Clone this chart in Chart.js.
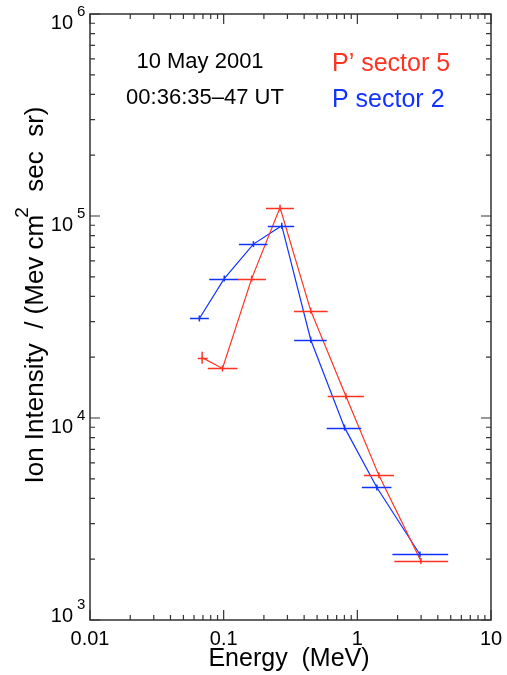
<!DOCTYPE html>
<html>
<head>
<meta charset="utf-8">
<script src="https://cdn.jsdelivr.net/npm/chart.js@4.4.1/dist/chart.umd.min.js"></script>
<style>
  body { margin: 0; background: #fff; }
  #wrap { width: 507px; height: 675px; }
</style>
</head>
<body>
<div id="wrap"><canvas id="ionChart" width="507" height="675"></canvas></div>
<script>
// Values (energy in MeV, intensity per Mev cm^2 sec sr)
const energyRed = [0.069, 0.098, 0.162, 0.264, 0.448, 0.822, 1.45, 2.99];
const intensityRed = [19900, 17600, 49000, 110000, 34000, 12800, 5200, 1960];
const lowRed = [0.064, 0.076, 0.128, 0.207, 0.335, 0.60, 1.12, 1.89];
const highRed = [0.076, 0.127, 0.207, 0.335, 0.60, 1.12, 1.88, 4.78];

const energyBlue = [0.0658, 0.101, 0.167, 0.272, 0.448, 0.803, 1.40, 2.94];
const intensityBlue = [31100, 49000, 72600, 89600, 24400, 8960, 4530, 2110];
const lowBlue = [0.056, 0.078, 0.130, 0.214, 0.337, 0.59, 1.08, 1.83];
const highBlue = [0.0775, 0.130, 0.213, 0.337, 0.59, 1.07, 1.80, 4.78];

const xTickValues = [0.01, 0.1, 1, 10];
const xTickLabels = ["0.01", "0.1", "1", "10"];
const yTickExponents = [3, 4, 5, 6];

const RED = "#ff3322";
const BLUE = "#1133ff";
const FONT = "'Liberation Sans', Arial, Helvetica, sans-serif";

const toPoints = (xs, ys) => xs.map((x, i) => ({ x: x, y: ys[i] }));

// horizontal energy-bin bars
const errorBars = {
  id: "errorBars",
  afterDatasetsDraw(chart) {
    const { ctx, scales } = chart;
    const sets = [
      [lowBlue, highBlue, intensityBlue, BLUE],
      [lowRed, highRed, intensityRed, RED],
    ];
    ctx.save();
    ctx.lineWidth = 1.5;
    sets.forEach(([lo, hi, ys, color]) => {
      ctx.strokeStyle = color;
      ys.forEach((v, i) => {
        const py = Math.round(scales.y.getPixelForValue(v)) + 0.5;
        ctx.beginPath();
        ctx.moveTo(scales.x.getPixelForValue(lo[i]), py);
        ctx.lineTo(scales.x.getPixelForValue(hi[i]), py);
        ctx.stroke();
      });
    });
    ctx.restore();
  },
};

// IDL-like box with inward ticks, labels and annotations
const frame = {
  id: "frame",
  afterDraw(chart) {
    const { ctx, chartArea: a, scales } = chart;
    const xs = scales.x, ys = scales.y;
    ctx.save();
    ctx.strokeStyle = "#333";
    ctx.lineWidth = 1.5;
    ctx.strokeRect(a.left, a.top, a.right - a.left, a.bottom - a.top);
    ctx.lineWidth = 1.2;
    ctx.beginPath();
    for (let d = -2; d <= 1; d++) {
      for (let k = 1; k <= 9; k++) {
        const v = k * Math.pow(10, d);
        if (v < 0.01 || v > 10) continue;
        const px = xs.getPixelForValue(v);
        const len = k === 1 ? 10 : 5;
        ctx.moveTo(px, a.bottom); ctx.lineTo(px, a.bottom - len);
        ctx.moveTo(px, a.top); ctx.lineTo(px, a.top + len);
      }
    }
    for (let d = 3; d <= 6; d++) {
      for (let k = 1; k <= 9; k++) {
        const v = k * Math.pow(10, d);
        if (v > 1e6) continue;
        const py = ys.getPixelForValue(v);
        const len = k === 1 ? 10 : 5;
        ctx.moveTo(a.left, py); ctx.lineTo(a.left + len, py);
        ctx.moveTo(a.right, py); ctx.lineTo(a.right - len, py);
      }
    }
    ctx.stroke();

    ctx.fillStyle = "#000";
    // x tick labels
    ctx.font = "20px " + FONT;
    ctx.textAlign = "center";
    ctx.textBaseline = "alphabetic";
    xTickValues.forEach((v, i) => {
      ctx.fillText(xTickLabels[i], xs.getPixelForValue(v), a.bottom + 25);
    });
    // y tick labels 10^n
    yTickExponents.forEach((e) => {
      const py = ys.getPixelForValue(Math.pow(10, e));
      const base = e === 3 ? py + 2 : py + 15;
      ctx.font = "20px " + FONT;
      ctx.textAlign = "right";
      ctx.fillText("10", 73, base);
      ctx.font = "15px " + FONT;
      ctx.textAlign = "left";
      ctx.fillText(String(e), 77, base - 13);
    });

    // x title
    ctx.font = "25px " + FONT;
    ctx.textAlign = "center";
    ctx.fillText("Energy  (MeV)", 289, 666);

    // y title, rotated, with superscript
    ctx.save();
    ctx.translate(43, 294);
    ctx.rotate(-Math.PI / 2);
    const p1 = "Ion Intensity  / (Mev cm", p3 = "  sec  sr)";
    ctx.font = "26px " + FONT;
    const w1 = ctx.measureText(p1).width, w3 = ctx.measureText(p3).width;
    ctx.font = "19px " + FONT;
    const w2 = ctx.measureText("2").width;
    const start = -(w1 + w2 + w3) / 2;
    ctx.textAlign = "left";
    ctx.font = "26px " + FONT;
    ctx.fillText(p1, start, 0);
    ctx.font = "19px " + FONT;
    ctx.fillText("2", start + w1 - 3, -15);
    ctx.font = "26px " + FONT;
    ctx.fillText(p3, start + w1 + w2 - 2, 0);
    ctx.restore();

    // annotations
    ctx.font = "22px " + FONT;
    ctx.textAlign = "center";
    ctx.fillText("10 May 2001", 200, 68);
    ctx.fillText("00:36:35\u201347 UT", 205, 104);
    ctx.font = "25px " + FONT;
    ctx.textAlign = "left";
    ctx.fillStyle = RED;
    ctx.fillText("P\u2019 sector 5", 332, 71);
    ctx.fillStyle = BLUE;
    ctx.fillText("P sector 2", 332, 107);
    ctx.restore();
  },
};

const ctx = document.getElementById("ionChart").getContext("2d");
const ionChart = new Chart(ctx, {
  type: "line",
  data: {
    datasets: [
      {
        label: "P\u2019 sector 5",
        data: toPoints(energyRed, intensityRed),
        borderColor: RED,
        backgroundColor: RED,
        borderWidth: 1.2,
        pointStyle: "line",
        pointRotation: 90,
        pointRadius: [6, 3, 3, 3, 3, 3, 3, 3],
        pointBorderWidth: 1.5,
        tension: 0,
      },
      {
        label: "P sector 2",
        data: toPoints(energyBlue, intensityBlue),
        borderColor: BLUE,
        backgroundColor: BLUE,
        borderWidth: 1.2,
        pointStyle: "line",
        pointRotation: 90,
        pointRadius: 3,
        pointBorderWidth: 1.5,
        tension: 0,
      },
    ],
  },
  options: {
    responsive: false,
    animation: false,
    devicePixelRatio: 1,
    layout: { padding: { left: 90, right: 16, top: 14, bottom: 55 } },
    plugins: { legend: { display: false }, tooltip: { enabled: false } },
    scales: {
      x: { type: "logarithmic", min: 0.01, max: 10, display: false },
      y: { type: "logarithmic", min: 1000, max: 1000000, display: false },
    },
  },
  plugins: [errorBars, frame],
});
</script>
</body>
</html>
